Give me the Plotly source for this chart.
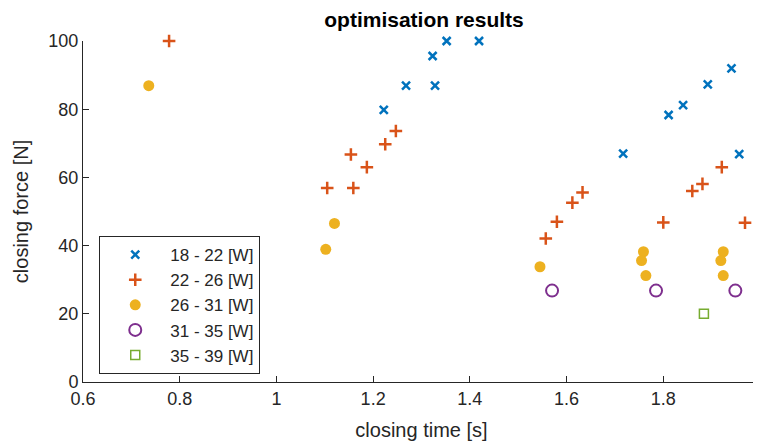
import plotly.graph_objects as go

# 18 - 22 [W]
t1 = [1.222, 1.268, 1.323, 1.328, 1.352, 1.419, 1.717, 1.811, 1.841, 1.892, 1.941, 1.957]
f1 = [79.8, 86.9, 95.6, 86.9, 100.0, 100.0, 67.0, 78.3, 81.2, 87.3, 92.0, 66.8]
# 22 - 26 [W]
t2 = [0.778, 1.247, 1.225, 1.154, 1.187, 1.105, 1.159, 1.633, 1.612, 1.580, 1.557, 1.800, 1.860, 1.881, 1.921, 1.969]
f2 = [100.0, 73.6, 69.7, 66.7, 63.0, 56.9, 56.9, 55.6, 52.6, 47.0, 42.1, 46.8, 56.0, 58.1, 63.0, 46.7]
# 26 - 31 [W]
t3 = [0.736, 1.120, 1.102, 1.545, 1.759, 1.755, 1.764, 1.924, 1.919, 1.924]
f3 = [86.9, 46.5, 38.9, 33.8, 38.2, 35.6, 31.2, 38.2, 35.6, 31.2]
# 31 - 35 [W]
t4 = [1.570, 1.785, 1.949]
f4 = [26.8, 26.8, 26.8]
# 35 - 39 [W]
t5 = [1.884]
f5 = [20.0]

names = ["18 - 22 [W]", "22 - 26 [W]", "26 - 31 [W]", "31 - 35 [W]", "35 - 39 [W]"]
x_ticks = [0.6, 0.8, 1.0, 1.2, 1.4, 1.6, 1.8, 2.0]
x_tick_text = ["0.6", "0.8", "1", "1.2", "1.4", "1.6", "1.8", "2"]
y_ticks = [0, 20, 40, 60, 80, 100]

FONT = "Liberation Sans, Arial, sans-serif"
AX = "#262626"
W, H = 753, 437  # page body has an 8px margin

fig = go.Figure()
fig.add_trace(go.Scatter(x=t1, y=f1, mode="markers", name=names[0], cliponaxis=False,
    marker=dict(symbol="x-thin", size=8, color="#0072BD", line=dict(width=2.5, color="#0072BD"))))
fig.add_trace(go.Scatter(x=t2, y=f2, mode="markers", name=names[1], cliponaxis=False,
    marker=dict(symbol="cross-thin", size=9, color="#D95319", line=dict(width=2.5, color="#D95319"))))
fig.add_trace(go.Scatter(x=t3, y=f3, mode="markers", name=names[2], cliponaxis=False,
    marker=dict(symbol="circle", size=11, color="#EDB120", line=dict(width=0))))
fig.add_trace(go.Scatter(x=t4, y=f4, mode="markers", name=names[3], cliponaxis=False,
    marker=dict(symbol="circle-open", size=12, color="#7E2F8E", line=dict(width=2, color="#7E2F8E"))))
fig.add_trace(go.Scatter(x=t5, y=f5, mode="markers", name=names[4], cliponaxis=False,
    marker=dict(symbol="square-open", size=9, color="#77AC30", line=dict(width=1.5, color="#77AC30"))))

fig.update_layout(
    width=W, height=H,
    margin=dict(l=75, r=1, t=33, b=63, autoexpand=False),
    paper_bgcolor="white", plot_bgcolor="white",
    font=dict(family=FONT, size=18, color=AX),
    title=dict(text="<b>optimisation results</b>", x=416 / W, xanchor="center",
               y=1 - 12 / H, yanchor="middle", yref="container",
               font=dict(family=FONT, size=21, color="black")),
    xaxis=dict(range=[0.6, 2.0], tickvals=x_ticks, ticktext=x_tick_text, automargin=False,
               ticklabeloverflow="allow",
               showgrid=False, zeroline=False, showline=True, linecolor=AX, linewidth=1,
               ticks="inside", ticklen=6, tickcolor=AX, tickfont=dict(size=18, color=AX),
               title=dict(text="closing time [s]", font=dict(size=20, color=AX), standoff=15),
               mirror=False),
    yaxis=dict(range=[0, 100], tickvals=y_ticks, automargin=False,
               showgrid=False, zeroline=False, showline=True, linecolor=AX, linewidth=1,
               ticks="inside", ticklen=6, tickcolor=AX, tickfont=dict(size=18, color=AX),
               title=dict(text="closing force [N]", font=dict(size=20, color=AX), standoff=14),
               mirror=False),
    legend=dict(x=0.024, y=0.428, xanchor="left", yanchor="top",
                bgcolor="white", bordercolor=AX, borderwidth=1,
                font=dict(size=17, color=AX), itemwidth=60),
    showlegend=True,
)

fig.write_html("out.html")
